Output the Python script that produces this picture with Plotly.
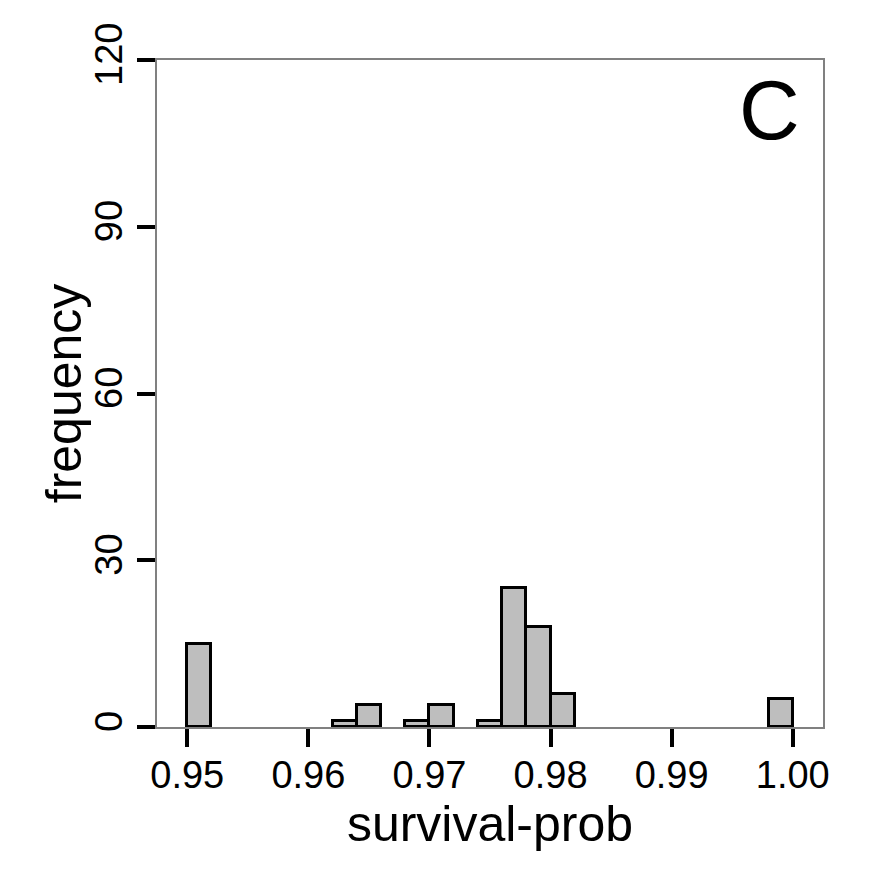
import plotly.graph_objects as go

# histogram bins (left edge) and counts, bin width 0.002
bin_left = [0.950, 0.962, 0.964, 0.968, 0.970, 0.974, 0.976, 0.978, 0.980, 0.998]
counts = [15, 1, 4, 1, 4, 1, 25, 18, 6, 5]
bin_width = 0.002

x_ticks = [0.95, 0.96, 0.97, 0.98, 0.99, 1.00]
x_ticktext = ["0.95", "0.96", "0.97", "0.98", "0.99", "1.00"]
y_ticks = [0, 30, 60, 90, 120]

centers = [b + bin_width / 2 for b in bin_left]

fig = go.Figure()
fig.add_trace(go.Bar(x=centers, y=counts, width=bin_width,
                     marker=dict(color="#bebebe", line=dict(color="black", width=3)),
                     showlegend=False))

font = "Liberation Sans, Arial, sans-serif"
# page body has an 8px margin, so margins are trimmed by 8
fig.update_layout(
    width=885, height=885,
    margin=dict(l=149, r=70, t=52, b=166),
    plot_bgcolor="white", paper_bgcolor="white",
    font=dict(family=font, color="black"),
    bargap=0,
    xaxis=dict(range=[0.9475, 1.0025], tickvals=x_ticks, ticktext=x_ticktext,
               ticks="outside", ticklen=18, tickwidth=4, tickcolor="black",
               tickfont=dict(size=38), showgrid=False, zeroline=False,
               ticklabelstandoff=-5,
               showline=True, mirror=True, linecolor="#808080", linewidth=2,
               title=dict(text="survival-prob", font=dict(size=50), standoff=0)),
    yaxis=dict(range=[0, 120], tickvals=y_ticks, tickangle=-90,
               ticks="outside", ticklen=18, tickwidth=4, tickcolor="black",
               tickfont=dict(size=38), showgrid=False, zeroline=False,
               showline=True, mirror=True, linecolor="#808080", linewidth=2),
    annotations=[
        dict(text="C", x=0.92, y=0.925, xref="paper", yref="paper",
             xanchor="center", yanchor="middle", showarrow=False,
             font=dict(size=84, color="black")),
        dict(text="frequency", x=-0.14, y=0.5, xref="paper", yref="paper",
             xanchor="center", yanchor="middle", textangle=-90, showarrow=False,
             font=dict(size=50, color="black")),
    ],
)

fig.write_html("out.html")
